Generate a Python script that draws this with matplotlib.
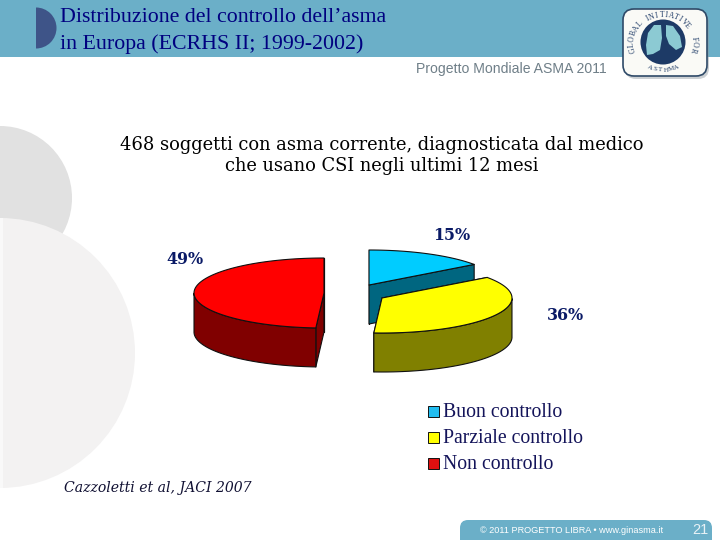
import numpy as np
import matplotlib
matplotlib.use('Agg')
import matplotlib.pyplot as plt
from matplotlib.patches import Polygon, Circle, Rectangle, FancyBboxPatch, Wedge

categories = ['Buon controllo', 'Parziale controllo', 'Non controllo']
values = [15, 36, 49]
value_labels = ['15%', '36%', '49%']
top_colors = ['#00CCFF', '#FFFF00', '#FF0000']
side_colors = ['#006680', '#808000', '#800000']
swatch_colors = ['#22BDF0', '#FFFF00', '#E01010']

fig = plt.figure(figsize=(7.2, 5.4), dpi=100)
ax = fig.add_axes([0, 0, 1, 1])
ax.set_xlim(0, 720); ax.set_ylim(540, 0); ax.axis('off')

# background
ax.add_patch(Circle((0, 198), 72, fc='#E1E1E1', ec='none', zorder=1))
ax.add_patch(Circle((0, 353), 135, fc='#F3F2F2', ec='none', zorder=3))
ax.add_patch(Rectangle((0, 218), 2.5, 270, fc='#F9F9F9', ec='none', zorder=3))
ax.add_patch(Rectangle((0, 0), 720, 57, fc='#6BAFC8', ec='none', zorder=4))
ax.add_patch(Wedge((36, 28), 20.5, -90, 90, fc='#3E5488', ec='none', zorder=5))

# logo
cx, cy = 663, 42
ax.add_patch(FancyBboxPatch((625, 12), 84, 67, boxstyle='round,pad=0,rounding_size=11',
                            fc='#8E989E', ec='none', alpha=0.45, zorder=5))
ax.add_patch(FancyBboxPatch((623, 9), 84, 67, boxstyle='round,pad=0,rounding_size=11',
                            fc='#FAFAF6', ec='#2F4A68', lw=1.2, zorder=6))
ax.add_patch(Circle((cx, cy), 22.5, fc='#1D3A66', ec='none', zorder=7))
left_lung = [(661, 25), (654, 25), (648, 33), (646, 45), (647, 55), (653, 54), (660, 50), (662, 38)]
right_lung = [(666, 25), (673, 26), (680, 36), (682, 47), (676, 50), (669, 44), (666, 36)]
for pts in (left_lung, right_lung):
    ax.add_patch(Polygon(pts, closed=True, fc='#8CCAD3', ec='none', zorder=8))

def arc_text(txt, r, centre_deg, step, inward_top=True, fs=5.6):
    n = len(txt)
    for k, ch in enumerate(txt):
        a = centre_deg + (k - (n - 1) / 2) * step
        x = cx + 1.15 * r * np.sin(np.radians(a))
        y = cy - r * np.cos(np.radians(a))
        rot = -a if inward_top else 180 - a
        ax.text(x, y, ch, family='Liberation Serif', fontsize=fs, color='#1D3A66',
                rotation=rot, ha='center', va='center', zorder=10)

arc_text('GLOBAL', 27, -77, 12)
arc_text('INITIATIVE', 27, 11, 9)
arc_text('FOR', 27, 95, 12)
arc_text('ASTHMA', 28, 180, -10, inward_top=False, fs=5)

# footer
ax.add_patch(FancyBboxPatch((460, 520), 252, 40, boxstyle='round,pad=0,rounding_size=8',
                            fc='#6BAFC8', ec='none', zorder=4))
ax.text(571.5, 530.5, '© 2011 PROGETTO LIBRA • www.ginasma.it', family='Liberation Sans', fontsize=6.6,
        color='white', ha='center', va='center', zorder=5)
ax.text(700, 530.5, '21', family='Liberation Sans', fontsize=10.5, color='#E8F2F6', ha='center', va='center', zorder=5)

# title texts
for txt, y in [('Distribuzione del controllo dell’asma', 18), ('in Europa (ECRHS II; 1999-2002)', 44)]:
    ax.text(60.5, y, txt, family='Liberation Serif', fontsize=15.75, color='#000080', ha='left', va='center', zorder=6)
ax.text(607, 69, 'Progetto Mondiale ASMA 2011', family='Liberation Sans', fontsize=10.1, color='#6F7F88',
        ha='right', va='center', zorder=6)
for txt, y in [('468 soggetti con asma corrente, diagnosticata dal medico', 145),
               ('che usano CSI negli ultimi 12 mesi', 166)]:
    ax.text(382, y, txt, family='DejaVu Serif', fontsize=12.9, color='#000000', ha='center', va='center', zorder=6)
ax.text(64, 488, 'Cazzoletti et al, JACI 2007', family='DejaVu Serif', style='italic', fontsize=10.1,
        color='#111133', ha='left', va='center', zorder=6)

# exploded 3D pie: angles are taken clockwise from the top of the ellipse
RX, RY, DEPTH = 130, 35, 39
apexes = [(369, 285), (382, 298), (324, 293)]
label_pos = [(452, 235), (565, 315), (185, 259)]
fractions = np.array(values, dtype=float) / sum(values)
edges = np.concatenate([[0], np.cumsum(fractions)]) * 2 * np.pi

def rim(apex, t):
    return apex[0] + RX * np.sin(t), apex[1] - RY * np.cos(t)

def draw_slice(i):
    apex, a0, a1 = apexes[i], edges[i], edges[i + 1]
    z = 20 + i
    t = np.linspace(a0, a1, 120)
    x, y = rim(apex, t)
    ec = dict(ec='#101010', lw=0.8, joinstyle='round', zorder=z)
    # straight cut faces
    for a in (a0, a1):
        ex, ey = rim(apex, a)
        ax.add_patch(Polygon([apex, (ex, ey), (ex, ey + DEPTH), (apex[0], apex[1] + DEPTH)],
                             fc=side_colors[i], **ec))
    # outer wall, front half only
    m = (t > np.pi / 2) & (t < 3 * np.pi / 2)
    if m.any():
        xs, ys = x[m], y[m]
        ax.add_patch(Polygon(np.r_[np.c_[xs, ys], np.c_[xs[::-1], ys[::-1] + DEPTH]],
                             fc=side_colors[i], **ec))
    # top face
    ax.add_patch(Polygon(np.r_[[apex], np.c_[x, y]], fc=top_colors[i], **ec))

for i in (0, 2, 1):
    draw_slice(i)

for (lx, ly), s in zip(label_pos, value_labels):
    ax.text(lx, ly, s, family='DejaVu Serif', fontsize=11.4, weight='bold', color='#0A1A66',
            ha='center', va='center', zorder=30)

# legend
for y, c, name in zip([411, 437, 463], swatch_colors, categories):
    ax.add_patch(Rectangle((428, y - 5), 11, 11, fc=c, ec='#111111', lw=0.7, zorder=6))
    ax.text(443, y + 1.5, name, family='Liberation Serif', fontsize=14.2, color='#14145A', ha='left', va='center', zorder=6)

fig.savefig('out.png', dpi=100)
